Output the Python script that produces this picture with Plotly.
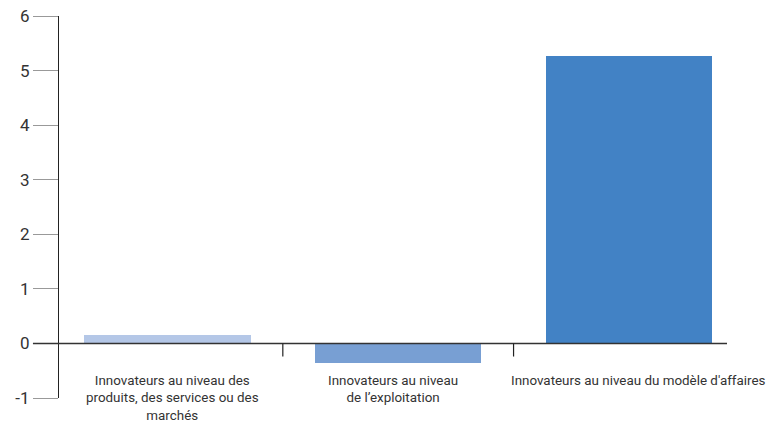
import plotly.graph_objects as go

categories = [
    "Innovateurs au niveau des<br>produits, des services ou des<br>marchés",
    "Innovateurs au niveau<br>de l’exploitation",
    "Innovateurs au niveau du modèle d'affaires",
]
values = [0.15, -0.36, 5.26]
bar_colors = ["#b4c7e7", "#789fd3", "#4282c5"]
y_ticks = [-1, 0, 1, 2, 3, 4, 5, 6]
y_tick_text = ["-1", "0", "1", "2", "3", "4", "5", "6"]

FONT = "Roboto, Liberation Sans, sans-serif"
xs = list(range(len(values)))
label_shift = [5, -5, 10]

fig = go.Figure(
    go.Bar(
        x=xs,
        y=values,
        marker=dict(color=bar_colors, line=dict(width=0)),
        width=0.72,
        hoverinfo="skip",
    )
)

# zero line, extended to the left over the tick area
fig.add_shape(type="line", xref="paper", yref="y", x0=-0.039, x1=1, y0=0, y1=0,
              line=dict(color="#333333", width=1.5))
# category dividers hanging below the zero line
for b in [0.5, 1.5]:
    fig.add_shape(type="line", xref="x", yref="y", x0=b, x1=b, y0=0, y1=-0.24,
                  line=dict(color="#222222", width=1.2))

# category labels under the zero line
for x, label, dx in zip(xs, categories, label_shift):
    fig.add_annotation(x=x, y=0, xref="x", yref="y", text=label, showarrow=False,
                       yanchor="top", yshift=-28, xshift=dx, align="center",
                       font=dict(family=FONT, size=13.4, color="#333333"))

fig.update_layout(
    width=776, height=427,
    margin=dict(l=59, r=49, t=16, b=29, autoexpand=False),
    paper_bgcolor="white", plot_bgcolor="white",
    showlegend=False,
    font=dict(family=FONT, size=15, color="#333333"),
    bargap=0,
)
fig.update_xaxes(range=[-0.47, 2.425], showticklabels=False, showgrid=False,
                 zeroline=False, showline=False, ticks="", automargin=False)
fig.update_yaxes(range=[-1, 6], tickvals=y_ticks, ticktext=y_tick_text,
                 showgrid=False, zeroline=False, automargin=False,
                 showline=True, linecolor="#222222", linewidth=1.2,
                 ticks="outside", ticklen=25, tickcolor="#999999", tickwidth=1,
                 tickfont=dict(family=FONT, size=17, color="#333333"))

fig.write_html("out.html")
